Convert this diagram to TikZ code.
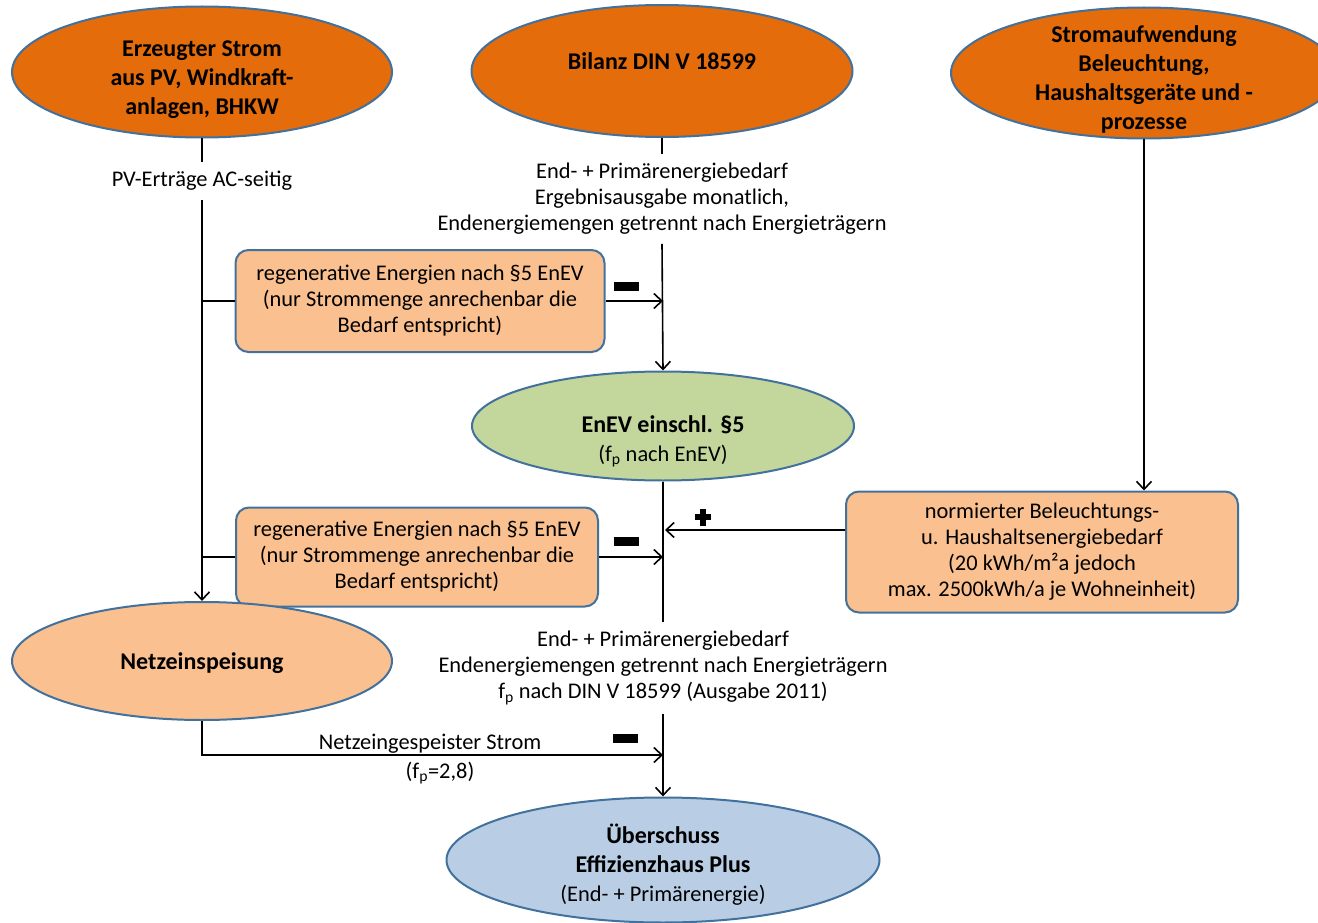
\documentclass[tikz,border=0pt]{standalone}
\usepackage{fontspec}
\setmainfont{Carlito}
\usepackage{xcolor}
\usepackage{tikz}
\usetikzlibrary{shapes.geometric,arrows.meta,calc}

\definecolor{orangeDark}{HTML}{E46C0A}
\definecolor{orangeLight}{HTML}{FAC090}
\definecolor{greenLight}{HTML}{C3D69B}
\definecolor{blueLight}{HTML}{B9CDE5}
\definecolor{blueEdge}{HTML}{41719C}

\newcommand\txtnorm{\fontsize{22.4}{26}\selectfont}
\newcommand\txtbold{\fontsize{24}{29}\selectfont\bfseries}

\tikzset{
  ell/.style={ellipse, draw=blueEdge, line width=2pt, inner sep=0pt},
  elltxt/.style={align=center, inner sep=0pt, font=\txtbold},
  rbox/.style={rectangle, rounded corners=13pt, draw=blueEdge, fill=orangeLight, line width=2pt, align=center, inner sep=0pt},
  lab/.style={align=center, inner xsep=2pt, inner ysep=9pt},
  minussign/.style={rectangle, fill=black, inner sep=0pt, minimum width=25pt, minimum height=9pt},
  flow/.style={line width=1.6pt, -{Straight Barb[length=8pt,width=15pt,line width=1.6pt]}},
  plain/.style={line width=1.6pt}
}

\begin{document}
\begin{tikzpicture}[x=1pt,y=-1pt,font=\txtnorm]
\useasboundingbox (0,0) rectangle (1318,923);

\node[ell, fill=orangeDark, minimum width=380pt, minimum height=131pt] (erz) at (202,72) {};
\node[elltxt] (erzTxt) at (202,80) {Erzeugter Strom\\aus PV, Windkraft-\\anlagen, BHKW};
\node[ell, fill=orangeDark, minimum width=381pt, minimum height=132pt] (bilanz) at (662,71) {};
\node[elltxt] (bilanzTxt) at (662,61) {Bilanz DIN V 18599};
\node[ell, fill=orangeDark, minimum width=386pt, minimum height=131pt] (strom) at (1144,73) {};
\node[elltxt] (stromTxt) at (1144,79) {Stromaufwendung\\Beleuchtung,\\Haushaltsgeräte und -\\prozesse};

\node[lab] (pv) at (202,181) {PV-Erträge AC-seitig};
\node[lab] (bedarfA) at (662,199) {End- + Primärenergiebedarf\\Ergebnisausgabe monatlich,\\Endenergiemengen getrennt nach Energieträgern};

\node[rbox, minimum width=369pt, minimum height=102pt] (regA) at (420,301) {regenerative Energien nach §5 EnEV\\(nur Strommenge anrechenbar die\\Bedarf entspricht)};
\node[minussign] (minA) at (626,286) {};

\node[ell, fill=greenLight, minimum width=382pt, minimum height=109pt] (enev) at (663,426) {};
\node[elltxt] (enevTxt) at (663,441) {EnEV einschl. §5\\{\txtnorm\mdseries (f\textsubscript{p} nach EnEV)}};

\node[rbox, minimum width=362pt, minimum height=99pt] (regB) at (417,557) {regenerative Energien nach §5 EnEV\\(nur Strommenge anrechenbar die\\Bedarf entspricht)};
\node[minussign] (minB) at (626,541) {};

\node[rbox, minimum width=392pt, minimum height=121pt] (haus) at (1042,552) {normierter Beleuchtungs-\\u. Haushaltsenergiebedarf\\(20 kWh/m²a jedoch\\max. 2500kWh/a je Wohneinheit)};
\node[fill=black, inner sep=0pt, minimum width=16pt, minimum height=6pt] (plusH) at (703,517) {};
\node[fill=black, inner sep=0pt, minimum width=6pt, minimum height=17pt] (plusV) at (703,517) {};

\node[ell, fill=orangeLight, minimum width=380pt, minimum height=118pt] (netz) at (202,661) {};
\node[elltxt] (netzTxt) at (202,663) {Netzeinspeisung};

\node[lab] (bedarfB) at (663,668) {End- + Primärenergiebedarf\\Endenergiemengen getrennt nach Energieträgern\\f\textsubscript{p} nach DIN V 18599 (Ausgabe 2011)};

\coordinate (feed) at (663,755);
\node (nstrom) at (430,744) {Netzeingespeister Strom};
\node (fpval) at (440,773) {(f\textsubscript{p}=2,8)};
\node[minussign] (minC) at (625,738) {};

\node[ell, fill=blueLight, minimum width=433pt, minimum height=125pt] (ueber) at (663,860) {};
\node[elltxt] (ueberTxt) at (663,865) {Überschuss\\Effizienzhaus Plus\\{\txtnorm\mdseries (End- + Primärenergie)}};

\draw[plain] (erz.south) -- (pv.north);
\draw[flow] (pv.south) -- (netz.north);
\draw[plain] (regA.west) -- (regA.west -| erz.south);
\draw[plain] (regB.west) -- (regB.west -| erz.south);

\draw[plain] (bilanz.south) -- (bedarfA.north);
\draw[flow] (bedarfA.south) -- (enev.north);
\draw[flow] (regA.east) -- (regA.east -| enev.north);

\draw[plain] (enev.south) -- (bedarfB.north);
\draw[flow] (regB.east) -- (regB.east -| enev.south);
\draw[flow] (strom.south) -- (strom.south |- haus.north);
\draw[flow] ($(haus.west)+(0,-22)$) -- ($(haus.west -| enev.south)+(2,-22)$);

\draw[flow] (netz.south) |- (feed);
\draw[flow] (bedarfB.south) -- (ueber.north);

\end{tikzpicture}
\end{document}
